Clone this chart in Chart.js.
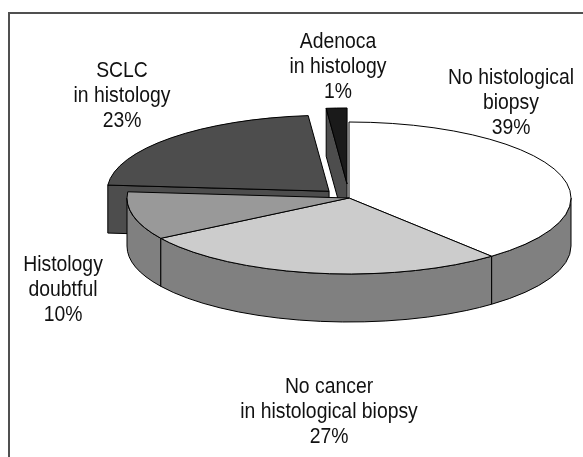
<!DOCTYPE html>
<html lang="en">
<head>
<meta charset="UTF-8">
<title>Histology pie</title>
<script src="https://cdn.jsdelivr.net/npm/chart.js"></script>
<style>
    html, body { margin: 0; background: #fff; overflow: hidden; }
    #frame { position: absolute; left: 8px; top: 12px; width: 600px; height: 500px; border-top: 2px solid #505050; border-left: 2px solid #505050; }
    canvas { position: absolute; left: 0; top: 0; }
</style>
</head>
<body>
<canvas id="grafico" width="583" height="457"></canvas>
<div id="frame"></div>

<script>
    // values; printed percentages are rounded
    const categories = ['No histological biopsy', 'No cancer in histological biopsy', 'Histology doubtful', 'SCLC in histology', 'Adenoca in histology'];
    const values = [38.9, 27.2, 10.2, 22.2, 1.5];
    const percentLabels = ['39%', '27%', '10%', '23%', '1%'];
    const labelLines = [
        ['No histological', 'biopsy'],
        ['No cancer', 'in histological biopsy'],
        ['Histology', 'doubtful'],
        ['SCLC', 'in histology'],
        ['Adenoca', 'in histology']
    ];
    const topColors = ['#ffffff', '#cccccc', '#999999', '#4d4d4d', '#1a1a1a'];
    const wallColors = ['#808080', '#808080', '#808080', '#4d4d4d', '#4d4d4d'];

    // 3d look
    const centerX = 349, centerY = 198, squash = 76 / 222, depth = 48;
    const pulled = [0, 0, 0, 28, 41];
    const labelSpots = [[511, 78], [329, 387], [63, 265], [122, 71], [338, 42]];

    function ponta(arc, i) {
        const meio = (arc.startAngle + arc.endAngle) / 2;
        return {
            x: centerX + Math.cos(meio) * pulled[i],
            y: centerY + Math.sin(meio) * pulled[i] * squash
        };
    }

    function desenharParede(ctx, arc, i) {
        const p = ponta(arc, i);
        const rx = arc.outerRadius, ry = rx * squash;
        ctx.fillStyle = wallColors[i];
        ctx.strokeStyle = '#000';
        ctx.lineWidth = 1;

        // cut face, only when it looks at the viewer
        if (pulled[i] > 0 && Math.cos(arc.startAngle) < 0) {
            const x1 = p.x + Math.cos(arc.startAngle) * rx;
            const y1 = p.y + Math.sin(arc.startAngle) * ry;
            ctx.beginPath();
            ctx.moveTo(p.x, p.y);
            ctx.lineTo(x1, y1);
            ctx.lineTo(x1, y1 + depth);
            ctx.lineTo(p.x, p.y + depth);
            ctx.closePath();
            ctx.fill();
            ctx.stroke();
        }

        // rim, front half only
        const a0 = Math.max(arc.startAngle, 0);
        const a1 = Math.min(arc.endAngle, Math.PI);
        if (a1 > a0) {
            ctx.beginPath();
            ctx.ellipse(p.x, p.y, rx, ry, 0, a0, a1);
            ctx.ellipse(p.x, p.y + depth, rx, ry, 0, a1, a0, true);
            ctx.closePath();
            ctx.fill();
            ctx.stroke();
        }
    }

    function desenharTopo(ctx, arc, i) {
        const p = ponta(arc, i);
        const rx = arc.outerRadius, ry = rx * squash;
        ctx.save();
        ctx.translate(p.x, p.y);
        ctx.scale(1, squash);
        ctx.translate(-arc.x, -arc.y);
        arc.draw(ctx);
        ctx.restore();

        ctx.strokeStyle = '#000';
        ctx.lineWidth = 1;
        ctx.beginPath();
        ctx.moveTo(p.x, p.y);
        ctx.ellipse(p.x, p.y, rx, ry, 0, arc.startAngle, arc.endAngle);
        ctx.closePath();
        ctx.stroke();
    }

    const pizza3d = {
        id: 'pizza3d',
        beforeDatasetDraw(chart) {
            const ctx = chart.ctx;
            const arcs = chart.getDatasetMeta(0).data;
            // back pieces first, then the main body
            [4, 3].forEach(i => { desenharParede(ctx, arcs[i], i); desenharTopo(ctx, arcs[i], i); });
            [0, 2, 1].forEach(i => desenharParede(ctx, arcs[i], i));
            [0, 1, 2].forEach(i => desenharTopo(ctx, arcs[i], i));
            return false;
        },
        afterDraw(chart) {
            const ctx = chart.ctx;
            ctx.save();
            ctx.fillStyle = '#111';
            ctx.font = '22px "Liberation Sans", sans-serif';
            ctx.textAlign = 'center';
            ctx.textBaseline = 'middle';
            categories.forEach((nome, i) => {
                const linhas = labelLines[i].concat(percentLabels[i]);
                linhas.forEach((texto, n) => {
                    // the original face is a narrow one, so squeeze it
                    ctx.save();
                    ctx.translate(labelSpots[i][0], labelSpots[i][1] + n * 25);
                    ctx.scale(0.88, 1);
                    ctx.fillText(texto, 0, 0);
                    ctx.restore();
                });
            });
            ctx.restore();
        }
    };

    new Chart(document.getElementById('grafico'), {
        type: 'pie',
        data: {
            labels: categories,
            datasets: [{
                data: values,
                backgroundColor: topColors,
                borderWidth: 0
            }]
        },
        options: {
            responsive: false,
            animation: false,
            radius: 222,
            layout: { padding: { left: 116 } },
            plugins: {
                legend: { display: false },
                tooltip: { enabled: false }
            }
        },
        plugins: [pizza3d]
    });
</script>
</body>
</html>
